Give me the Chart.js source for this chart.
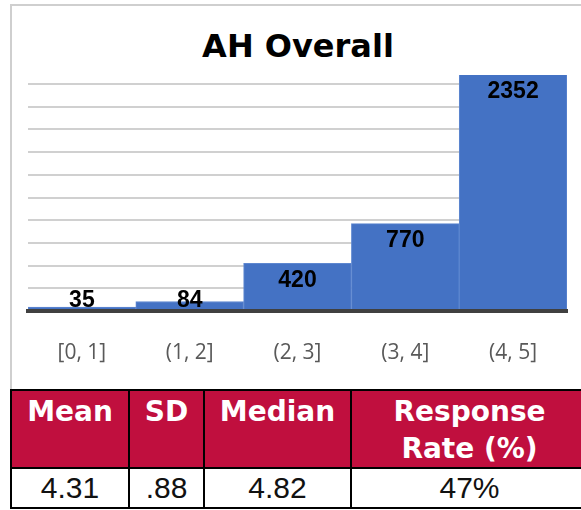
<!DOCTYPE html>
<html>
<head>
<meta charset="utf-8">
<script src="https://cdn.jsdelivr.net/npm/chart.js@4/dist/chart.umd.min.js"></script>
<style>
  html, body { margin: 0; padding: 0; background: #ffffff; }
  body { width: 581px; height: 510px; overflow: hidden; position: relative; }
  #frame { position: absolute; left: 10px; top: 4px; width: 640px; height: 383px; border: 2px solid #cfcfcf; box-sizing: content-box; }
  #title { position: absolute; left: 0; top: 26px; width: 596px; text-align: center; font: bold 32px "DejaVu Sans"; line-height: 40px; color: #000; }
  #chartWrap { position: absolute; left: 0; top: 0; width: 581px; height: 389px; }
  #stats { position: absolute; left: 10px; top: 389px; border-collapse: collapse; table-layout: fixed; width: 577px; }
  #stats th, #stats td { border: 2px solid #000; text-align: center; padding: 0; }
  #stats th { background: #c00f3e; color: #fff; font: bold 28px "DejaVu Sans"; line-height: 37px; vertical-align: top; padding-top: 2px; height: 74px; white-space: pre-line; }
  #stats td { font: 30px "Liberation Sans"; color: #111; height: 38px; line-height: 38px; }
</style>
</head>
<body>
<div id="frame"></div>
<div id="title">AH Overall</div>
<div id="chartWrap"><canvas id="c" width="581" height="389"></canvas></div>
<table id="stats">
  <colgroup><col style="width:118px"><col style="width:75px"><col style="width:147px"><col style="width:237px"></colgroup>
  <thead><tr id="hdr"></tr></thead>
  <tbody><tr id="vals"></tr></tbody>
</table>
<script>
const categories = ['[0, 1]', '(1, 2]', '(2, 3]', '(3, 4]', '(4, 5]'];
const counts = [35, 84, 420, 770, 2352];
const yAxisMax = 2080;
const yGridStep = 200;
const statHeaders = ['Mean', 'SD', 'Median', 'Response\nRate (%)'];
const statValues = ['4.31', '.88', '4.82', '47%'];

// table
const hdr = document.getElementById('hdr');
statHeaders.forEach(h => { const th = document.createElement('th'); th.textContent = h; hdr.appendChild(th); });
const vals = document.getElementById('vals');
statValues.forEach(v => { const td = document.createElement('td'); td.textContent = v; vals.appendChild(td); });

const barLabels = {
  id: 'barLabels',
  afterDraw(chart) {
    const ctx = chart.ctx;
    const area = chart.chartArea;
    const meta = chart.getDatasetMeta(0);
    ctx.save();
    ctx.font = 'bold 23px "Liberation Sans"';
    ctx.fillStyle = '#000';
    ctx.textAlign = 'center';
    ctx.textBaseline = 'middle';
    meta.data.forEach((bar, i) => {
      const top = Math.max(bar.y, area.top);
      const yc = Math.min(top + 17, area.bottom - 10);
      ctx.fillText(String(counts[i]), bar.x, yc);
    });
    ctx.restore();
  }
};

new Chart(document.getElementById('c'), {
  type: 'bar',
  data: {
    labels: categories,
    datasets: [{
      data: counts,
      backgroundColor: '#4472c4',
      borderColor: '#5e87d0',
      borderWidth: 1,
      barPercentage: 1,
      categoryPercentage: 1
    }]
  },
  options: {
    responsive: false,
    devicePixelRatio: 1,
    animation: false,
    layout: { padding: { left: 28, right: 14, top: 75, bottom: 0 } },
    plugins: { legend: { display: false }, title: { display: false }, tooltip: { enabled: false } },
    scales: {
      x: {
        grid: { display: false },
        border: { display: true, color: '#404040', width: 4, z: 1 },
        ticks: { color: '#595959', font: { family: 'Open Sans', size: 21 }, padding: 21 },
        afterFit(s) { s.height = 78; }
      },
      y: {
        min: 0,
        max: yAxisMax,
        ticks: { display: false, stepSize: yGridStep },
        grid: { color: '#d0d0d0', lineWidth: 2, drawTicks: false },
        border: { display: false },
        afterBuildTicks(s) {
          const t = [];
          for (let v = 0; v <= yAxisMax; v += yGridStep) t.push({ value: v });
          s.ticks = t;
        },
        afterFit(s) { s.width = 0; }
      }
    }
  },
  plugins: [barLabels]
});
</script>
</body>
</html>
